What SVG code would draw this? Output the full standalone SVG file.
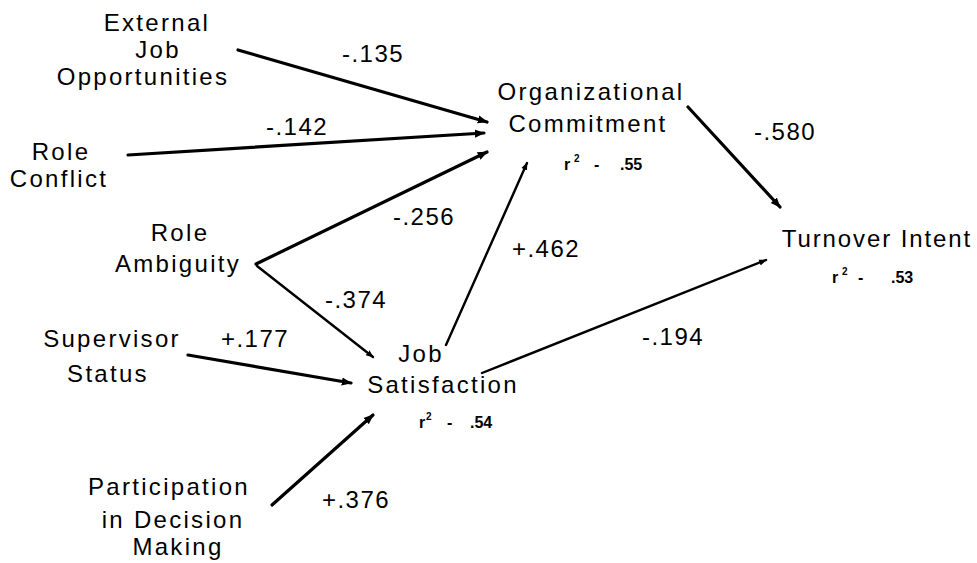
<svg xmlns="http://www.w3.org/2000/svg" width="977" height="563" viewBox="0 0 977 563">
<style>
text{font-family:"Liberation Sans",Arial,sans-serif;fill:#000}
.n{font-size:24px;letter-spacing:2.3px;text-anchor:middle}
.c{font-size:24px;letter-spacing:1.5px;text-anchor:middle}
.r{font-size:16px;font-weight:bold}
.s{font-size:10px;font-weight:bold}
line{stroke:#000;stroke-linecap:round}
.t{stroke-width:3.2}
.m{stroke-width:2.4}
</style>
<defs>
<marker id="ah" viewBox="0 0 10 10" refX="9" refY="5" markerWidth="3.2" markerHeight="3.2" orient="auto" markerUnits="strokeWidth">
<path d="M0,1 L10,5 L0,9 z" fill="#000"/>
</marker>
</defs>
<rect width="977" height="563" fill="#fff"/>
<g id="connectors">
<line class="t" x1="238" y1="50" x2="487" y2="122" marker-end="url(#ah)"/>
<line class="t" x1="128" y1="155" x2="484" y2="133" marker-end="url(#ah)"/>
<line class="t" x1="256" y1="264" x2="487" y2="152" marker-end="url(#ah)"/>
<line class="m" x1="257" y1="266" x2="373" y2="357" marker-end="url(#ah)"/>
<line class="t" x1="188" y1="355" x2="351" y2="383" marker-end="url(#ah)"/>
<line class="m" x1="446" y1="345" x2="527" y2="163" marker-end="url(#ah)"/>
<line class="m" x1="482" y1="373" x2="766" y2="260" marker-end="url(#ah)"/>
<line class="t" x1="688" y1="107" x2="780" y2="207" marker-end="url(#ah)"/>
<line class="t" x1="272" y1="505" x2="373" y2="415" marker-end="url(#ah)"/>
</g>
<g id="labels">
<text class="c" x="373" y="62">-.135</text>
<text class="c" x="297" y="135">-.142</text>
<text class="c" x="424" y="225">-.256</text>
<text class="c" x="356" y="308">-.374</text>
<text class="c" x="255" y="347">+.177</text>
<text class="c" x="546" y="257">+.462</text>
<text class="c" x="785" y="140">-.580</text>
<text class="c" x="673" y="345">-.194</text>
<text class="c" x="356" y="508">+.376</text>
</g>
<g id="ext-job">
<text class="n" x="157" y="31">External</text>
<text class="n" x="158" y="58">Job</text>
<text class="n" x="143" y="85">Opportunities</text>
</g>
<g id="role-conflict">
<text class="n" x="61" y="160">Role</text>
<text class="n" x="59" y="187">Conflict</text>
</g>
<g id="role-ambiguity">
<text class="n" x="180" y="241">Role</text>
<text class="n" x="178" y="272">Ambiguity</text>
</g>
<g id="supervisor-status">
<text class="n" x="112" y="347">Supervisor</text>
<text class="n" x="108" y="382">Status</text>
</g>
<g id="participation">
<text class="n" x="169" y="495">Participation</text>
<text class="n" x="173" y="528">in Decision</text>
<text class="n" x="178" y="555">Making</text>
</g>
<g id="org-commitment">
<text class="n" x="591" y="100">Organizational</text>
<text class="n" x="588" y="132">Commitment</text>
<text class="r" x="564" y="170">r<tspan class="s" x="574" y="162">2</tspan><tspan x="594" y="170">-</tspan><tspan x="620" y="170">.55</tspan></text>
</g>
<g id="job-satisfaction">
<text class="n" x="421" y="362">Job</text>
<text class="n" x="443" y="393">Satisfaction</text>
<text class="r" x="419" y="428">r<tspan class="s" x="426" y="420">2</tspan><tspan x="447" y="428">-</tspan><tspan x="470" y="428">.54</tspan></text>
</g>
<g id="turnover-intent">
<text class="n" x="877" y="247" style="letter-spacing:1.9px">Turnover Intent</text>
<text class="r" x="832" y="283">r<tspan class="s" x="842" y="275">2</tspan><tspan x="858" y="283">-</tspan><tspan x="891" y="283">.53</tspan></text>
</g>
</svg>
